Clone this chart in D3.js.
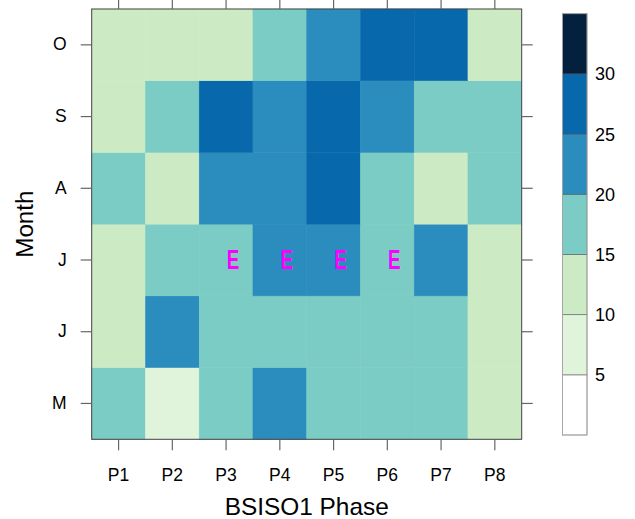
<!DOCTYPE html>
<html><head><meta charset="utf-8">
<script src="https://cdn.jsdelivr.net/npm/d3@7"></script>
<style>body{margin:0;background:#fff}svg{display:block}text{font-family:"Liberation Sans",Arial,Helvetica,sans-serif}</style>
</head><body><svg id="c" width="635" height="519"></svg>
<script>
// Data
const phases = ["P1","P2","P3","P4","P5","P6","P7","P8"];
const months = ["M","J","J","A","S","O"]; // bottom to top
const valM   = [17, 8, 17, 22, 17, 17, 17, 12];
const valJun = [12, 22, 17, 17, 17, 17, 17, 12];
const valJul = [12, 17, 17, 22, 22, 17, 22, 12];
const valA   = [17, 12, 22, 22, 27, 17, 12, 17];
const valS   = [12, 17, 27, 22, 27, 22, 17, 17];
const valO   = [12, 12, 12, 17, 22, 27, 27, 12];
const rows = [valM, valJun, valJul, valA, valS, valO];
const markerRow = 2; // July
const markerPhases = ["P3","P4","P5","P6"];
const markerText = "E";
const levels = [0,5,10,15,20,25,30,35];
const keyTicks = [5,10,15,20,25,30];
const palette = ["#ffffff","#e0f3db","#ccebc5","#7bccc4","#2b8cbe","#0868ac","#03203f"];

const svg = d3.select("#c");
const L = 91.7, R = 521.7, T = 9, B = 439.3;
const x = d3.scaleBand().domain(phases).range([L, R]);
const y = d3.scaleBand().domain(d3.range(months.length)).range([B, T]);
const color = d3.scaleThreshold().domain(levels.slice(1, -1)).range(palette);

const cells = [];
rows.forEach((r, i) => r.forEach((v, j) => cells.push({i, p: phases[j], v})));
svg.append("g").selectAll("rect").data(cells).join("rect")
  .attr("x", d => x(d.p)).attr("y", d => y(d.i))
  .attr("width", x.bandwidth()).attr("height", y.bandwidth())
  .attr("fill", d => color(d.v)).attr("stroke", d => color(d.v)).attr("stroke-width", 0.5);

// markers
svg.append("g").selectAll("text").data(markerPhases).join("text")
  .attr("transform", p => `translate(${x(p) + x.bandwidth()/2 + 7},${y(markerRow) + y.bandwidth()/2 + 8.5}) scale(0.66,1)`)
  .attr("text-anchor", "middle").attr("font-size", 28.5).attr("font-weight", "bold")
  .attr("fill", "#ff00ff").text(markerText);

// frame
svg.append("rect").attr("x", L).attr("y", T).attr("width", R - L).attr("height", B - T)
  .attr("fill", "none").attr("stroke", "#444").attr("stroke-width", 1);

const tickLen = 11, tickCol = "#666";
// bottom axis
svg.append("g").attr("transform", `translate(0,${B})`)
  .call(d3.axisBottom(x).tickSize(tickLen).tickPadding(18));
// top axis (ticks only)
svg.append("g").attr("transform", `translate(0,${T})`)
  .call(d3.axisTop(x).tickSize(tickLen).tickFormat(""));
// left axis
svg.append("g").attr("transform", `translate(${L},0)`)
  .call(d3.axisLeft(y).tickSize(tickLen).tickPadding(14).tickFormat(i => months[i]));
// right axis (ticks only)
svg.append("g").attr("transform", `translate(${R},0)`)
  .call(d3.axisRight(y).tickSize(tickLen).tickFormat(""));
svg.selectAll(".domain").remove();
svg.selectAll(".tick line").attr("stroke", tickCol).attr("stroke-width", 1.2);
svg.selectAll(".tick text").attr("font-size", 17.5).attr("fill", "#000")
  .style("font-family", '"Liberation Sans",Arial,sans-serif');

// axis titles
svg.append("text").attr("x", (L + R) / 2).attr("y", 515).attr("text-anchor", "middle")
  .attr("font-size", 24.4).text("BSISO1 Phase");
svg.append("text").attr("transform", `translate(33,${(T + B) / 2}) rotate(-90)`)
  .attr("text-anchor", "middle").attr("font-size", 24.2).text("Month");

// color key
const kx = 562.5, kw = 24.5;
const ky = d3.scaleLinear().domain([0, 35]).range([435, 13.7]);
const bins = d3.range(levels.length - 1).map(k => ({lo: levels[k], hi: levels[k+1], c: palette[k]}));
svg.append("g").selectAll("rect").data(bins).join("rect")
  .attr("x", kx).attr("y", d => ky(d.hi)).attr("width", kw).attr("height", d => ky(d.lo) - ky(d.hi))
  .attr("fill", d => d.c).attr("stroke", "#555").attr("stroke-opacity", 0.7).attr("stroke-width", 0.8);
svg.append("rect").attr("x", kx).attr("y", ky(35)).attr("width", kw).attr("height", ky(0) - ky(35))
  .attr("fill", "none").attr("stroke", "#aaa").attr("stroke-width", 0.8);
svg.append("g").selectAll("text").data(keyTicks).join("text")
  .attr("x", 595).attr("y", d => ky(d) + 6.5).attr("font-size", 18).text(d => d);
</script></body></html>
